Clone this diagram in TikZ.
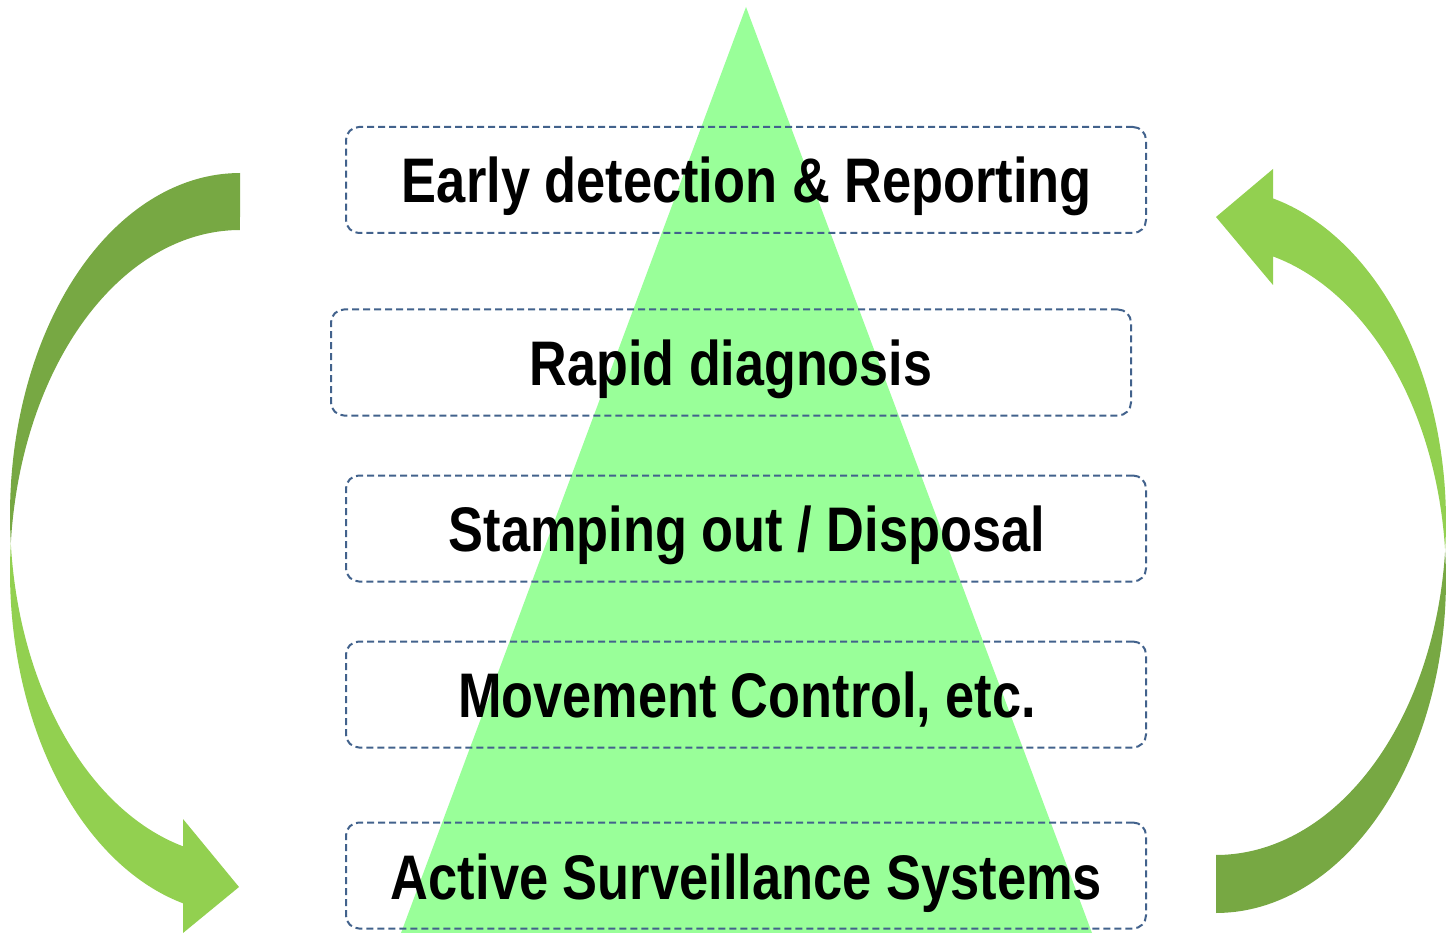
\documentclass[tikz,border=0pt]{standalone}
\usepackage{fontspec}
\setmainfont{Liberation Sans}
\usepackage{graphicx}
\definecolor{pyr}{HTML}{99FF99}
\definecolor{darkarr}{HTML}{77A843}
\definecolor{lightarr}{HTML}{92D050}
\definecolor{boxline}{HTML}{42628C}
\tikzset{
  stagebox/.style={draw=boxline, line width=2pt, dash pattern=on 7pt off 4pt,
    rounded corners=13pt, minimum width=800pt, minimum height=106pt, inner sep=0pt},
  stagetext/.style={anchor=base, inner sep=0pt, font=\fontsize{63}{70}\selectfont\bfseries},
  arrsmp/.style={samples=80, variable=\t}
}
\begin{document}
\begin{tikzpicture}[x=1pt,y=-1pt]
\useasboundingbox (0,0) rectangle (1446,933);
% left curved arrow
\fill[darkarr] plot[arrsmp, domain=-90:-184.78] ({240+230*cos(\t)},{515+342*sin(\t)})
  -- plot[arrsmp, domain=-175.22:-90] ({240+230*cos(\t)},{572+342*sin(\t)}) -- cycle;
\fill[lightarr] plot[arrsmp, domain=175.22:104.35] ({240+230*cos(\t)},{515+342*sin(\t)})
  -- (183,819) -- (239,887) -- (183,933)
  -- plot[arrsmp, domain=104.35:184.78] ({240+230*cos(\t)},{572+342*sin(\t)}) -- cycle;
% right curved arrow
\fill[darkarr] plot[arrsmp, domain=90:-4.99] ({1216+230*cos(\t)},{579.5+333.5*sin(\t)})
  -- plot[arrsmp, domain=4.99:90] ({1216+230*cos(\t)},{521.5+333.5*sin(\t)}) -- cycle;
\fill[lightarr] plot[arrsmp, domain=4.99:-75.65] ({1216+230*cos(\t)},{521.5+333.5*sin(\t)})
  -- (1273,169) -- (1216,217) -- (1273,285)
  -- plot[arrsmp, domain=-75.65:-4.99] ({1216+230*cos(\t)},{579.5+333.5*sin(\t)}) -- cycle;
% pyramid
\coordinate (apex) at (746,7);
\coordinate (bl) at (401,933);
\coordinate (br) at (1092,933);
\fill[pyr] (apex) -- (bl) -- (br) -- cycle;
% boxes
\node[stagebox] (b1) at (746,180) {};
\node[stagebox] (b2) at (731,362.5) {};
\node[stagebox] (b3) at (746,528.5) {};
\node[stagebox] (b4) at (746,694.5) {};
\node[stagebox] (b5) at (746,875.5) {};
% texts
\node[stagetext] (t1) at (747,203) {\resizebox{690pt}{\height}{Early detection \& Reporting}};
\node[stagetext] (t2) at (731,385) {\resizebox{402pt}{\height}{Rapid diagnosis}};
\node[stagetext] (t3) at (747,551) {\resizebox{596pt}{\height}{Stamping out / Disposal}};
\node[stagetext] (t4) at (747,717) {\resizebox{578pt}{\height}{Movement Control, etc.}};
\node[stagetext] (t5) at (746.5,899) {\resizebox{711pt}{\height}{Active Surveillance Systems}};
\end{tikzpicture}
\end{document}
